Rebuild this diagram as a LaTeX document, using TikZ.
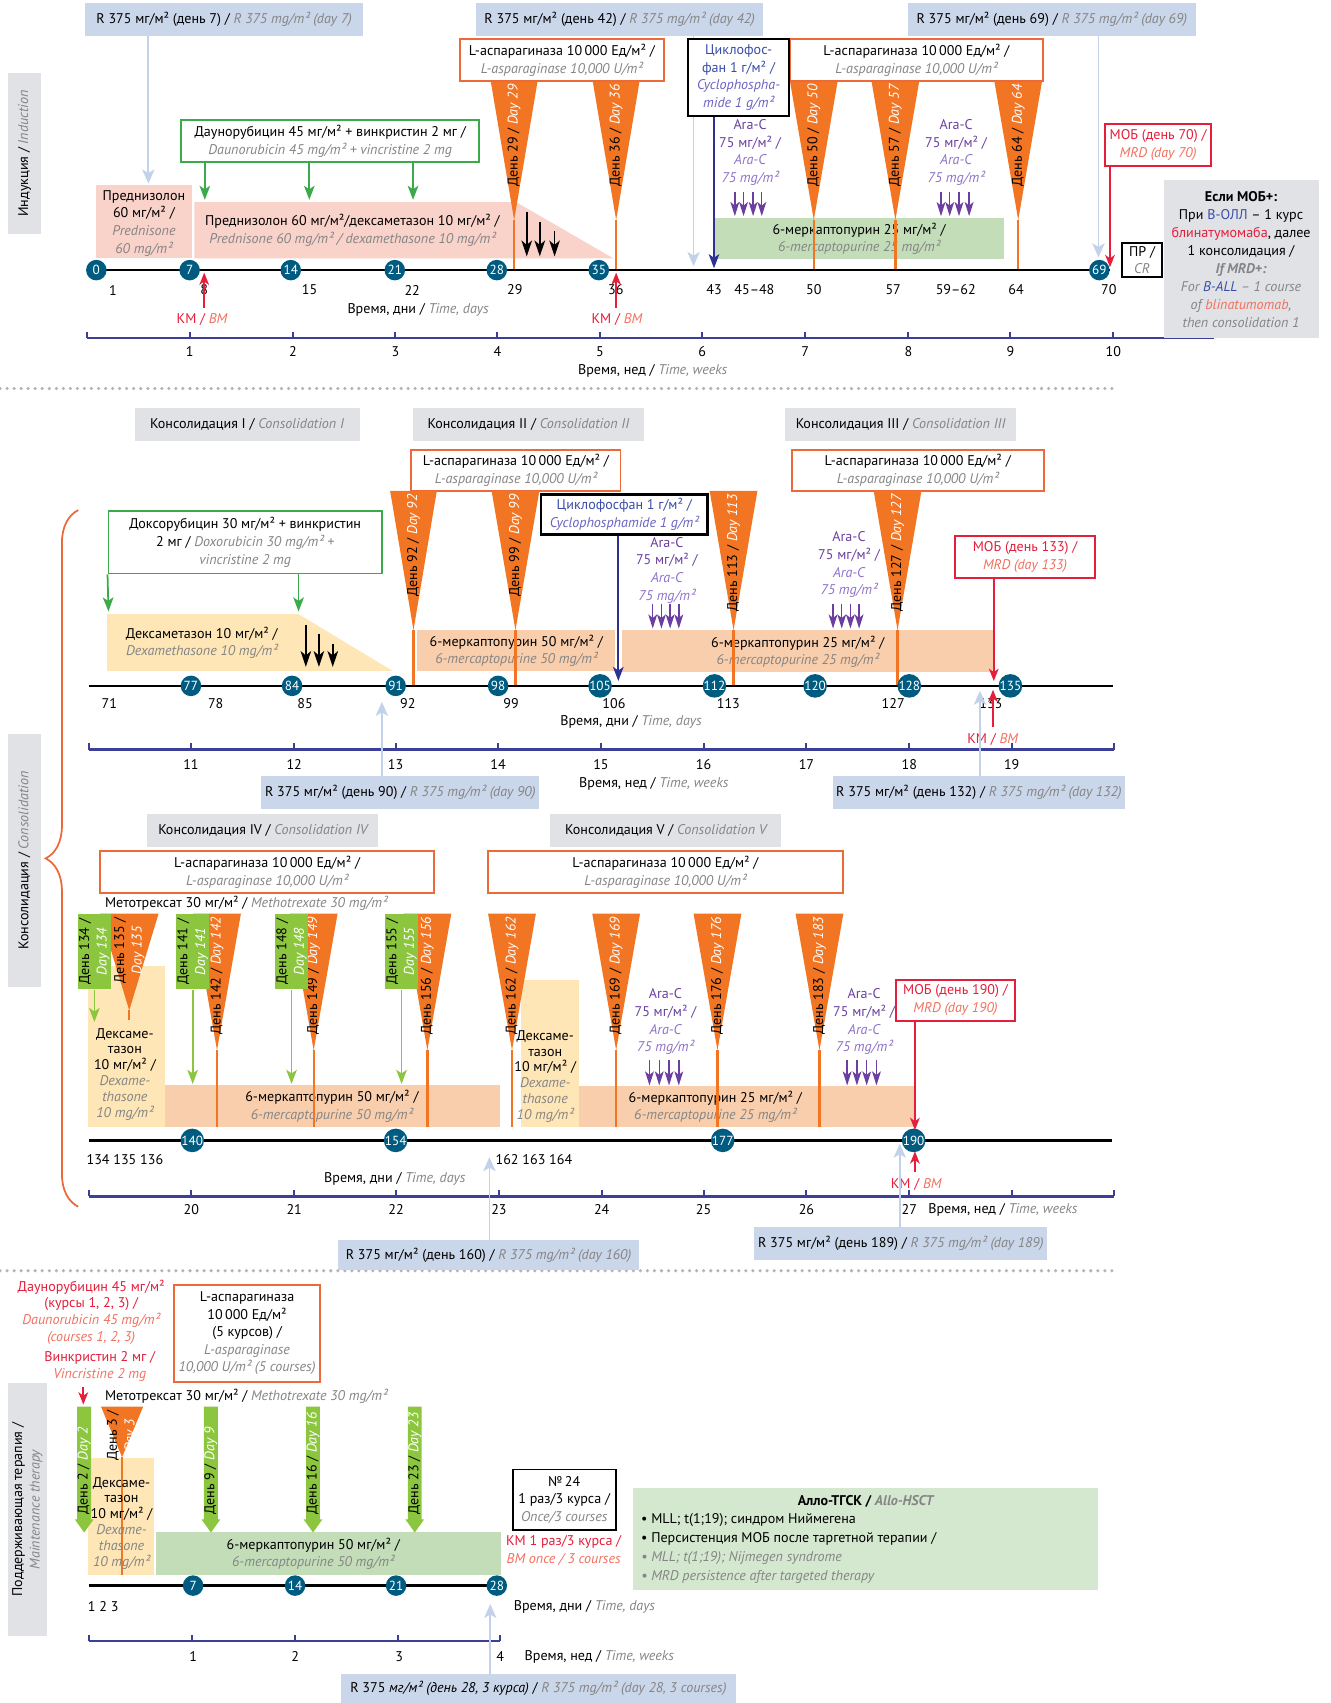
\documentclass[tikz,border=0pt]{standalone}
\usepackage{fontspec}
\setmainfont{PT Sans}
\usetikzlibrary{arrows.meta,fit,decorations.pathreplacing}

\definecolor{rboxcol}{HTML}{CAD6EA}
\definecolor{lbcol}{HTML}{C3D2EA}
\definecolor{graycol}{HTML}{E1E2E6}
\definecolor{aspframe}{HTML}{EC6A3A}
\definecolor{tricol}{HTML}{F17523}
\definecolor{dgreen}{HTML}{3BAA4A}
\definecolor{lgreen}{HTML}{8CC63F}
\definecolor{mpgreen}{HTML}{C3DDB9}
\definecolor{allogreen}{HTML}{D4E7CF}
\definecolor{pinkband}{HTML}{F9D2CA}
\definecolor{dexyellow}{HTML}{FEE6B7}
\definecolor{peach}{HTML}{F9CEAC}
\definecolor{dayteal}{HTML}{005B80}
\definecolor{mobred}{HTML}{E41E3B}
\definecolor{salmon}{HTML}{F2705E}
\definecolor{arapurple}{HTML}{6B3FA0}
\definecolor{aralight}{HTML}{8E72C8}
\definecolor{cycblue}{HTML}{2E3192}
\definecolor{cyctext}{HTML}{3A4DA8}
\definecolor{cycitalic}{HTML}{6A62C0}
\definecolor{weekcol}{HTML}{3C3F98}
\definecolor{engray}{HTML}{858585}
\definecolor{sepgray}{HTML}{B4B4B4}

\tikzset{
  rbox/.style={fill=rboxcol, inner sep=0pt},
  graylab/.style={fill=graycol, inner sep=0pt},
  aspbox/.style={draw=aspframe, line width=1.1pt, fill=white, inner sep=0pt},
  greenbox/.style={draw=dgreen, line width=1.1pt, fill=white, inner sep=0pt},
  blackbox/.style={draw=black, line width=1.3pt, fill=white, inner sep=0pt},
  mobbox/.style={draw=mobred, line width=1.1pt, fill=white, inner sep=0pt},
  boxtext/.style={align=center, inner sep=0pt},
  daycirc/.style={circle, fill=dayteal, text=white, inner sep=0pt, minimum size=0.41cm, font=\fontsize{7.5}{8}\selectfont},
  timeline/.style={black, line width=1.3pt},
  weekaxis/.style={weekcol, line width=1.2pt},
  sepline/.style={sepgray, line width=2pt, dash pattern=on 0pt off 4pt, line cap=round},
  lbarrow/.style={lbcol, line width=1pt, -{Stealth[width=7pt,length=8pt,inset=2pt]}},
  grarrow/.style={dgreen, line width=1pt, -{Stealth[width=6pt,length=8pt,inset=2pt]}},
  lgarrow/.style={lgreen, line width=1pt, -{Stealth[width=6pt,length=8pt,inset=2pt]}},
  redarrow/.style={mobred, line width=1pt, -{Stealth[width=5.5pt,length=7pt,inset=2pt]}},
  cycarrow/.style={cycblue, line width=1.1pt, -{Stealth[width=6pt,length=8pt,inset=2pt]}},
  taparrow/.style={black, line width=0.9pt, -{Stealth[width=6pt,length=9pt,inset=2.5pt]}},
  araarrow/.style={arapurple, line width=0.8pt, -{Stealth[width=5pt,length=8pt,inset=2pt]}},
  triline/.style={tricol, line width=1.3pt},
  tritext/.style={rotate=90, inner sep=0pt},
  aratext/.style={align=center, text=arapurple},
}

\newcommand{\engl}[1]{{\color{engray}\itshape #1}}
\newcommand{\whit}[1]{{\color{white}\itshape #1}}
\newcommand{\salm}[1]{{\color{salmon}\itshape #1}}
\newcommand{\aratxt}{Ara-C\\75 мг/м² /\\{\color{aralight}\itshape Ara-C}\\{\color{aralight}\itshape 75 mg/m²}}
\newcommand{\asptxt}{L-аспарагиназа 10\,000 Ед/м² /\\\engl{L-asparaginase 10,000 U/m²}}
% name, x, top, apex, line end, half width, text
\newcommand{\asptri}[7]{%
  \fill[tricol] ({#2-#6},#3) -- ({#2+#6},#3) -- (#2,#4) -- cycle;
  \coordinate (#1a) at (#2,#4);
  \coordinate (#1b) at (#2,#5);
  \draw[triline] (#1a) -- (#1b);
  \node[tritext, anchor=east, align=center] (#1) at (#2,{#3+3}) {#7};}
% name, left, right, arrow end, text
\newcommand{\mtxcol}[5]{%
  \node[fill=lgreen, inner sep=0pt, fit={(#2,841.3) (#3,911)}] (#1) {};
  \node[tritext, align=center] (#1t) at (#1.center) {#5};
  \coordinate (#1e) at ({(#2+#3)/2},#4);
  \draw[lgarrow] (#1.south) -- (#1e);}
% name, x, text
\newcommand{\mtxbig}[3]{%
  \fill[lgreen] ({#2-6.4},1295.1) -- ({#2+6.4},1295.1) -- ({#2+6.4},1399) -- ({#2+8.6},1399)
    -- (#2,1411) -- ({#2-8.6},1399) -- ({#2-6.4},1399) -- cycle;
  \node[tritext, anchor=west] (#1) at (#2,1395) {#3};}

\begin{document}
\begin{tikzpicture}[x=0.0217cm, y=-0.0217cm, font=\fontsize{8}{10}\selectfont]
\useasboundingbox (0,0) rectangle (1225,1568);

% ------------------------------------------------ induction
\node[graylab, fit={(7,67.5) (38,215)}] (indbox) {};
\node[rotate=90] (indtxt) at (indbox.center) {Индукция / \engl{Induction}};

\fill[pinkband] (88,170) rectangle (177,238);
\node[align=center] (predtxt) at (132.5,205.5) {Преднизолон\\60 мг/м² /\\\engl{Prednisone}\\\engl{60 mg/m²}};
\fill[pinkband] (179,186) -- (475,186) -- (565,238) -- (179,238) -- cycle;
\node[align=center] (predband) at (324.5,212) {Преднизолон 60 мг/м²/дексаметазон 10 мг/м² /\\\engl{Prednisone 60 mg/m² / dexamethasone 10 mg/m²}};
\fill[mpgreen] (657.8,201) rectangle (924.3,238.8);
\node[align=center] (mpind) at (791,220) {6-меркаптопурин 25 мг/м² /\\\engl{6-mercaptopurine 25 mg/m²}};

\asptri{t29}{473.4}{74.6}{202.6}{248.7}{21.6}{День 29 / \whit{Day 29}}
\asptri{t36}{567.3}{74.6}{202.6}{248.7}{21.6}{День 36 / \whit{Day 36}}
\asptri{t50}{749.3}{74.6}{202.6}{248.7}{22}{День 50 / \whit{Day 50}}
\asptri{t57}{824.4}{74.6}{202.6}{248.7}{22}{День 57 / \whit{Day 57}}
\asptri{t64}{937.5}{74.6}{202.6}{248.7}{22}{День 64 / \whit{Day 64}}

\coordinate (tpa1) at (485,195);   \coordinate (tpb1) at (485,236);
\coordinate (tpa2) at (497,204);   \coordinate (tpb2) at (497,236);
\coordinate (tpa3) at (510.6,213); \coordinate (tpb3) at (510.6,236);
\draw[taparrow] (tpa1) -- (tpb1);
\draw[taparrow] (tpa2) -- (tpb2);
\draw[taparrow] (tpa3) -- (tpb3);

\coordinate (tla) at (80,248.7); \coordinate (tlb) at (1022,248.7);
\draw[timeline] (tla) -- (tlb);
\node[daycirc] (c0) at (88.7,248.7) {0};
\node[daycirc] (c7) at (174.6,248.7) {7};
\node[daycirc] (c14) at (267.7,248.7) {14};
\node[daycirc] (c21) at (363.5,248.7) {21};
\node[daycirc] (c28) at (457.4,248.7) {28};
\node[daycirc] (c35) at (551.3,248.7) {35};
\node[daycirc] (c69) at (1012.2,248.7) {69};

\node (dl1) at (104,267) {1};
\node (dl8) at (188,267) {8};
\node (dl15) at (285,267) {15};
\node (dl22) at (379.5,267) {22};
\node (dl29) at (474,267) {29};
\node (dl36) at (567,267) {36};
\node (dl43) at (657.4,267) {43};
\node (dl45) at (694.6,267) {45–48};
\node (dl50) at (749.3,267) {50};
\node (dl57) at (822.4,267) {57};
\node (dl59) at (880,267) {59–62};
\node (dl64) at (935.5,267) {64};
\node (dl70) at (1021,267) {70};
\node (daysa) at (385,285) {Время, дни / \engl{Time, days}};

\node (km8) at (186,294.5) {{\color{mobred}КМ /} \salm{BM}};
\node (km36) at (568,294.5) {{\color{mobred}КМ /} \salm{BM}};
\coordinate (km8e) at (188,251); \coordinate (km36e) at (567.3,251);
\draw[redarrow] (km8.north -| km8e) -- (km8e);
\draw[redarrow] (km36.north -| km36e) -- (km36e);

\coordinate (wa0) at (80,311.6); \coordinate (wa1) at (1118,311.6);
\draw[weekaxis] (wa0) -- (wa1);
\foreach \x in {80,174.6,269.7,364,458,552.5,646.6,741.3,836.4,930.3,1025,1118}
  \draw[weekaxis] (\x,311.6) -- (\x,305.6);
\foreach \x/\n in {174.6/1,269.7/2,364/3,458/4,552.5/5,646.6/6,741.3/7,836.4/8,930.3/9,1025/10}
  \node (wk\n) at (\x,324) {\n};
\node (weeksa) at (601,341.4) {Время, нед / \engl{Time, weeks}};

\node[rbox, fit={(78.7,3) (334,33)}] (rb7) {};
\node[boxtext] (rb7t) at (rb7.center) {R 375 мг/м² (день 7) / \engl{R 375 mg/m² (day 7)}};
\node[rbox, fit={(438.6,3) (702.6,33)}] (rb42) {};
\node[boxtext] (rb42t) at (rb42.center) {R 375 мг/м² (день 42) / \engl{R 375 mg/m² (day 42)}};
\node[rbox, fit={(835.6,3) (1101.3,33)}] (rb69) {};
\node[boxtext] (rb69t) at (rb69.center) {R 375 мг/м² (день 69) / \engl{R 375 mg/m² (day 69)}};
\coordinate (rb7e) at (136.6,169); \coordinate (rb42e) at (638.6,245); \coordinate (rb69e) at (1011.4,237);
\draw[lbarrow] (rb7.south -| rb7e) -- (rb7e);
\draw[lbarrow] (rb42.south -| rb42e) -- (rb42e);
\draw[lbarrow] (rb69.south -| rb69e) -- (rb69e);

\node[greenbox, fit={(166.6,110.5) (441.4,149.5)}] (daun) {};
\node[boxtext] (daunt) at (daun.center) {Даунорубицин 45 мг/м² + винкристин 2 мг /\\\engl{Daunorubicin 45 mg/m² + vincristine 2 mg}};
\coordinate (dau1) at (188.6,184); \coordinate (dau2) at (284.8,184); \coordinate (dau3) at (380.3,184);
\draw[grarrow] (daun.south -| dau1) -- (dau1);
\draw[grarrow] (daun.south -| dau2) -- (dau2);
\draw[grarrow] (daun.south -| dau3) -- (dau3);

\node[aspbox, fit={(423.5,36) (611,74.6)}] (asp1) {};
\node[boxtext] (asp1t) at (asp1.center) {\asptxt};
\node[aspbox, fit={(727.3,36) (960.3,74.6)}] (asp2) {};
\node[boxtext] (asp2t) at (asp2.center) {\asptxt};

\node[blackbox, fit={(633.5,36) (726.5,106.5)}] (cyc1) {};
\node[boxtext] (cyc1t) at (cyc1.center) {{\color{cyctext}Циклофос-}\\{\color{cyctext}фан 1 г/м² /}\\{\color{cycitalic}\itshape Cyclophospha-}\\{\color{cycitalic}\itshape mide 1 g/m²}};
\coordinate (cyc1e) at (657.4,247);
\draw[cycarrow] (cyc1.south -| cyc1e) -- (cyc1e);

\node[aratext] (ara1) at (690.6,140.5) {\aratxt};
\node[aratext] (ara2) at (880.3,140.5) {\aratxt};
\foreach \x [count=\i] in {676.6,684.6,693.4,701.4} {
  \coordinate (ara1s\i) at (\x,176.5); \coordinate (ara1e\i) at (\x,199);
  \draw[araarrow] (ara1s\i) -- (ara1e\i);}
\foreach \x [count=\i] in {866.4,874.4,883,892.3} {
  \coordinate (ara2s\i) at (\x,176.5); \coordinate (ara2e\i) at (\x,199);
  \draw[araarrow] (ara2s\i) -- (ara2e\i);}

\node[mobbox, fit={(1017.4,114.2) (1115.2,152.6)}] (mob70) {};
\node[boxtext] (mob70t) at (mob70.center) {{\color{mobred}МОБ (день 70) /}\\\salm{MRD (day 70)}};
\coordinate (mob70e) at (1022,246);
\draw[redarrow] (mob70.south -| mob70e) -- (mob70e);
\node[blackbox, line width=1.1pt, fit={(1033,224) (1070,254.8)}] (pr) {};
\node[boxtext] (prt) at (pr.center) {ПР /\\\engl{CR}};
\node[graylab, fit={(1071.3,165.8) (1214,311.6)}] (mrdplus) {};
\node[boxtext, font=\fontsize{8}{10.2}\selectfont] (mrdtxt) at (mrdplus.center) {\textbf{Если МОБ+:}\\При {\color{cyctext}В-ОЛЛ} – 1 курс\\{\color{mobred}блинатумомаба}, далее\\1 консолидация /\\{\color{engray}\bfseries\itshape If MRD+:}\\\engl{For {\color{cyctext}B-ALL} – 1 course}\\\engl{of {\color{salmon}blinatumomab},}\\\engl{then consolidation 1}};

\coordinate (sep1a) at (0,357.7); \coordinate (sep1b) at (1028,357.7);
\draw[sepline] (sep1a) -- (sep1b);

% ------------------------------------------------ consolidation I-III
\node[graylab, fit={(124,376) (331,405.9)}] (cons1) {};
\node[boxtext] (cons1t) at (cons1.center) {Консолидация I / \engl{Consolidation I}};
\node[graylab, fit={(380.3,376) (592.8,405.9)}] (cons2) {};
\node[boxtext] (cons2t) at (cons2.center) {Консолидация II / \engl{Consolidation II}};
\node[graylab, fit={(723,376) (935.5,405.9)}] (cons3) {};
\node[boxtext] (cons3t) at (cons3.center) {Консолидация III / \engl{Consolidation III}};
\node[aspbox, fit={(378.7,414.5) (571.3,451.9)}] (asp3) {};
\node[boxtext] (asp3t) at (asp3.center) {\asptxt};
\node[aspbox, fit={(729,414.5) (961,451.9)}] (asp4) {};
\node[boxtext] (asp4t) at (asp4.center) {\asptxt};

\coordinate (brb) at (72,1111); \coordinate (brt) at (72,469.7);
\draw[aspframe, line width=1pt, decorate, decoration={brace, amplitude=0.65cm}] (brb) -- (brt);
\node[graylab, fit={(7,675.4) (38,908.8)}] (consbox) {};
\node[rotate=90] (constxt) at (consbox.center) {Консолидация / \engl{Consolidation}};

\fill[dexyellow] (98.7,565.5) -- (274.9,565.5) -- (361.5,617.7) -- (98.7,617.7) -- cycle;
\node[align=center] (dexc) at (185.8,591.8) {Дексаметазон 10 мг/м² /\\\engl{Dexamethasone 10 mg/m²}};
\fill[peach] (384.3,579.6) rectangle (566.5,617.7);
\node[align=center] (mp50c) at (475.4,599.3) {6-меркаптопурин 50 мг/м² /\\\engl{6-mercaptopurine 50 mg/m²}};
\fill[peach] (572.5,580.2) rectangle (914.3,618.6);
\node[align=center] (mp25c) at (734.5,600.2) {6-меркаптопурин 25 мг/м² /\\\engl{6-mercaptopurine 25 mg/m²}};

\asptri{t92}{380.7}{451.9}{580.2}{631.5}{21.5}{День 92 / \whit{Day 92}}
\asptri{t99}{474.6}{451.9}{580.2}{631.5}{22}{День 99 / \whit{Day 99}}
\asptri{t113}{675.4}{451.9}{580.2}{631.5}{22}{День 113 / \whit{Day 113}}
\asptri{t127}{826.4}{451.9}{580.2}{631.5}{22}{День 127 / \whit{Day 127}}

\node[greenbox, fit={(99.9,470.6) (351.6,528)}] (doxo) {};
\node[boxtext] (doxot) at (doxo.center) {Доксорубицин 30 мг/м² + винкристин\\2 мг / \engl{Doxorubicin 30 mg/m² +}\\\engl{vincristine 2 mg}};
\coordinate (dox1) at (99.9,563); \coordinate (dox2) at (274.9,563);
\draw[grarrow] (doxo.south west) -- (dox1);
\draw[grarrow] (doxo.south -| dox2) -- (dox2);

\coordinate (tca1) at (281.6,575.6); \coordinate (tcb1) at (281.6,614);
\coordinate (tca2) at (293.6,583.3); \coordinate (tcb2) at (293.6,614);
\coordinate (tca3) at (306.4,592.5); \coordinate (tcb3) at (306.4,614);
\draw[taparrow] (tca1) -- (tcb1);
\draw[taparrow] (tca2) -- (tcb2);
\draw[taparrow] (tca3) -- (tcb3);

\node[blackbox, fit={(498.2,455.3) (651.4,492)}] (cyc2) {};
\node[boxtext] (cyc2t) at (cyc2.center) {{\color{cyctext}Циклофосфан 1 г/м² /}\\{\color{cycitalic}\itshape Cyclophosphamide 1 g/m²}};
\coordinate (cyc2e) at (569.3,627);
\draw[cycarrow] (cyc2.south -| cyc2e) -- (cyc2e);

\node[aratext] (ara3) at (614,525) {\aratxt};
\node[aratext] (ara4) at (781.7,520) {\aratxt};
\foreach \x [count=\i] in {601,609,617,625} {
  \coordinate (ara3s\i) at (\x,555.7); \coordinate (ara3e\i) at (\x,578.7);
  \draw[araarrow] (ara3s\i) -- (ara3e\i);}
\foreach \x [count=\i] in {767,775,783,791} {
  \coordinate (ara4s\i) at (\x,555.7); \coordinate (ara4e\i) at (\x,578.7);
  \draw[araarrow] (ara4s\i) -- (ara4e\i);}

\coordinate (tca) at (82,631.5); \coordinate (tcb) at (1025,631.5);
\draw[timeline] (tca) -- (tcb);
\node[daycirc] (c77) at (175.8,631.5) {77};
\node[daycirc] (c84) at (268.9,631.5) {84};
\node[daycirc] (c91) at (364.3,631.5) {91};
\node[daycirc] (c98) at (458.6,631.5) {98};
\node[daycirc] (c105) at (552.5,631.5) {105};
\node[daycirc] (c112) at (657.8,631.5) {112};
\node[daycirc] (c120) at (750.5,631.5) {120};
\node[daycirc] (c128) at (837.2,631.5) {128};
\node[daycirc] (c135) at (930.3,631.5) {135};

\node (dl71) at (100.7,647.8) {71};
\node (dl78) at (198.6,647.8) {78};
\node (dl85) at (280.9,647.8) {85};
\node (dl92) at (375.5,647.8) {92};
\node (dl99) at (470.6,647.8) {99};
\node (dl106) at (565.3,647.8) {106};
\node (dl113) at (670.6,647.8) {113};
\node (dl127) at (822.4,647.8) {127};
\node (dl133) at (912.3,647.8) {133};
\node (daysc) at (581,664.7) {Время, дни / \engl{Time, days}};

\node[mobbox, fit={(879.5,493.7) (1008.2,532)}] (mob133) {};
\node[boxtext] (mob133t) at (mob133.center) {{\color{mobred}МОБ (день 133) /}\\\salm{MRD (day 133)}};
\coordinate (mob133e) at (915,627);
\draw[redarrow] (mob133.south -| mob133e) -- (mob133e);
\node (km133) at (914,680.6) {{\color{mobred}КМ /} \salm{BM}};
\coordinate (km133e) at (914.3,635);
\draw[redarrow] (km133.north -| km133e) -- (km133e);

\coordinate (wc0) at (82,690.1); \coordinate (wc1) at (1025.4,690.1);
\draw[weekaxis] (wc0) -- (wc1);
\foreach \x in {82,175.8,270.9,364.3,458.6,553.3,647.8,742.5,837.2,931.5,1025.4}
  \draw[weekaxis] (\x,690.1) -- (\x,684.1);
\foreach \x/\n in {175.8/11,270.9/12,364.3/13,458.6/14,553.3/15,647.8/16,742.5/17,837.2/18,931.5/19}
  \node (wk\n) at (\x,704) {\n};
\node (weeksc) at (602,721.5) {Время, нед / \engl{Time, weeks}};

\node[rbox, fit={(240.5,714.7) (496.6,744.5)}] (rb90) {};
\node[boxtext] (rb90t) at (rb90.center) {R 375 мг/м² (день 90) / \engl{R 375 mg/m² (day 90)}};
\node[rbox, fit={(766.5,714.7) (1036.2,744.5)}] (rb132) {};
\node[boxtext] (rb132t) at (rb132.center) {R 375 мг/м² (день 132) / \engl{R 375 mg/m² (day 132)}};
\coordinate (rb90e) at (351.6,646.2); \coordinate (rb132e) at (902.3,636);
\draw[lbarrow] (rb90.north -| rb90e) -- (rb90e);
\draw[lbarrow] (rb132.north -| rb132e) -- (rb132e);

% ------------------------------------------------ consolidation IV-V
\node[graylab, fit={(135.8,749.8) (348.4,779.9)}] (cons4) {};
\node[boxtext] (cons4t) at (cons4.center) {Консолидация IV / \engl{Consolidation IV}};
\node[graylab, fit={(506.8,749.8) (719.3,779.9)}] (cons5) {};
\node[boxtext] (cons5t) at (cons5.center) {Консолидация V / \engl{Consolidation V}};
\node[aspbox, fit={(92.3,783.6) (399.5,822.2)}] (asp5) {};
\node[boxtext] (asp5t) at (asp5.center) {\asptxt};
\node[aspbox, fit={(448.9,783.6) (776.5,822.2)}] (asp6) {};
\node[boxtext] (asp6t) at (asp6.center) {\asptxt};
\node[anchor=west] (mtx4) at (91,831.4) {Метотрексат 30 мг/м² / \engl{Methotrexate 30 mg/m²}};

\fill[peach] (151.8,999.4) rectangle (460.2,1037.7);
\node[align=center] (mp50d) at (305.6,1018.5) {6-меркаптопурин 50 мг/м² /\\\engl{6-mercaptopurine 50 mg/m²}};
\fill[peach] (520.8,1000.3) rectangle (842.4,1037.7);
\node[align=center] (mp25d) at (658.6,1019) {6-меркаптопурин 25 мг/м² /\\\engl{6-mercaptopurine 25 mg/m²}};
\fill[dexyellow] (80.7,889.8) rectangle (151.8,1037.7);
\node[align=center, font=\fontsize{8}{9}\selectfont] (dex4) at (115,989) {Дексаме-\\тазон\\10 мг/м² /\\\engl{Dexame-}\\\engl{thasone}\\\engl{10 mg/m²}};
\fill[dexyellow] (480,902.7) rectangle (532.8,1037.7);
\node[align=center, font=\fontsize{8}{9}\selectfont] (dex5) at (502,991) {Дексаме-\\тазон\\10 мг/м² /\\\engl{Dexame-}\\\engl{thasone}\\\engl{10 mg/m²}};

\asptri{t135}{119}{841.3}{930.3}{939.5}{27}{День 135 /\\\whit{Day 135}}
\asptri{t142}{199.8}{841.3}{967}{1037.7}{22}{День 142 / \whit{Day 142}}
\asptri{t149}{288.8}{841.3}{967}{1037.7}{22}{День 149 / \whit{Day 149}}
\asptri{t156}{393.5}{841.3}{967}{1037.7}{22}{День 156 / \whit{Day 156}}
\asptri{t162}{471.4}{841.3}{967}{1037.7}{22}{День 162 / \whit{Day 162}}
\asptri{t169}{567.3}{841.3}{967}{1037.7}{22}{День 169 / \whit{Day 169}}
\asptri{t176}{660.6}{841.3}{967}{1037.7}{22}{День 176 / \whit{Day 176}}
\asptri{t183}{754.5}{841.3}{967}{1037.7}{22}{День 183 / \whit{Day 183}}

\mtxcol{m134}{71.9}{101.9}{941}{День 134 /\\\whit{Day 134}}
\mtxcol{m141}{162.2}{192.6}{998}{День 141 /\\\whit{Day 141}}
\mtxcol{m148}{253.3}{283.6}{998}{День 148 /\\\whit{Day 148}}
\mtxcol{m155}{354.8}{384.7}{998}{День 155 /\\\whit{Day 155}}

\node[aratext] (ara5) at (612.7,940.8) {\aratxt};
\node[aratext] (ara6) at (795.6,940.8) {\aratxt};
\foreach \x [count=\i] in {598,607,616,625} {
  \coordinate (ara5s\i) at (\x,976); \coordinate (ara5e\i) at (\x,999.4);
  \draw[araarrow] (ara5s\i) -- (ara5e\i);}
\foreach \x [count=\i] in {780,789,798,807} {
  \coordinate (ara6s\i) at (\x,976); \coordinate (ara6e\i) at (\x,999.4);
  \draw[araarrow] (ara6s\i) -- (ara6e\i);}

\coordinate (tda) at (82,1050); \coordinate (tdb) at (1024,1050);
\draw[timeline] (tda) -- (tdb);
\node[daycirc] (c140) at (177,1050) {140};
\node[daycirc] (c154) at (364.3,1050) {154};
\node[daycirc] (c177) at (665.4,1050) {177};
\node[daycirc] (c190) at (841.2,1050) {190};
\node (dl134) at (115,1067.5) {134 135 136};
\node (dl162) at (491.6,1067.5) {162 163 164};
\node (daysd) at (363.5,1085.4) {Время, дни / \engl{Time, days}};

\node[mobbox, fit={(825.2,902) (934.3,940)}] (mob190) {};
\node[boxtext] (mob190t) at (mob190.center) {{\color{mobred}МОБ (день 190) /}\\\salm{MRD (day 190)}};
\coordinate (mob190e) at (842.4,1040.5);
\draw[redarrow] (mob190.south -| mob190e) -- (mob190e);
\node (km190) at (843.6,1090.5) {{\color{mobred}КМ /} \salm{BM}};
\coordinate (km190e) at (842.4,1060);
\draw[redarrow] (km190.north -| km190e) -- (km190e);

\coordinate (wd0) at (82,1101.6); \coordinate (wd1) at (1026,1101.6);
\draw[weekaxis] (wd0) -- (wd1);
\foreach \x in {82,176.2,270.9,364.7,459.4,554,647.8,742.5,837.2,931.5,1026}
  \draw[weekaxis] (\x,1101.6) -- (\x,1095.6);
\foreach \x/\n in {176.2/20,270.9/21,364.7/22,459.4/23,554/24,647.8/25,742.5/26,837.2/27}
  \node (wk\n) at (\x,1113.6) {\n};
\node[anchor=west] (weeksd) at (849,1113.6) {Время, нед / \engl{Time, weeks}};

\coordinate (sep2a) at (0,1170); \coordinate (sep2b) at (1028,1170);
\draw[sepline] (sep2a) -- (sep2b);
\node[rbox, fit={(311.6,1142.1) (588,1169.7)}] (rb160) {};
\node[boxtext] (rb160t) at (rb160.center) {R 375 мг/м² (день 160) / \engl{R 375 mg/m² (day 160)}};
\node[rbox, fit={(694.6,1129.8) (964.2,1160.5)}] (rb189) {};
\node[boxtext] (rb189t) at (rb189.center) {R 375 мг/м² (день 189) / \engl{R 375 mg/m² (day 189)}};
\coordinate (rb160e) at (450.6,1065.4); \coordinate (rb189e) at (828.4,1053);
\draw[lbarrow] (rb160.north -| rb160e) -- (rb160e);
\draw[lbarrow] (rb189.north -| rb189e) -- (rb189e);

% ------------------------------------------------ maintenance
\node[align=center, font=\fontsize{8}{9.5}\selectfont] (daunm) at (84,1208) {{\color{mobred}Даунорубицин 45 мг/м²}\\{\color{mobred}(курсы 1, 2, 3) /}\\\salm{Daunorubicin 45 mg/m²}\\\salm{(courses 1, 2, 3)}};
\node[align=center, font=\fontsize{8}{9.5}\selectfont] (vinm) at (91.9,1258) {{\color{mobred}Винкристин 2 мг /}\\\salm{Vincristine 2 mg}};
\coordinate (vinme) at (76.7,1293.2);
\draw[redarrow] (vinm.south -| vinme) -- (vinme);
\node[aspbox, fit={(160.6,1182.7) (294.4,1272.6)}] (aspm) {};
\node[boxtext] (aspmt) at (aspm.center) {L-аспарагиназа\\10\,000 Ед/м²\\(5 курсов) /\\\engl{L-asparaginase}\\\engl{10,000 U/m² (5 courses)}};
\node[anchor=west] (mtxm) at (91,1285.5) {Метотрексат 30 мг/м² / \engl{Methotrexate 30 mg/m²}};

\node[graylab, fit={(7.2,1273.3) (43.1,1506.6)}] (maintbox) {};
\node[rotate=90, align=center] (mainttxt) at (maintbox.center) {Поддерживающая терапия /\\\engl{Maintenance therapy}};

\fill[dexyellow] (80.7,1342.6) rectangle (141.8,1449.8);
\fill[mpgreen] (143.8,1410.8) rectangle (461.4,1449.8);
\node[align=center] (mp50m) at (288.4,1430.7) {6-меркаптопурин 50 мг/м² /\\\engl{6-mercaptopurine 50 mg/m²}};
\asptri{t3}{112.4}{1295.1}{1341.7}{1449.8}{19.4}{День 3 /\\\whit{Day 3}}
\node[align=center, font=\fontsize{8}{9}\selectfont] (dexm) at (111.9,1402.5) {Дексаме-\\тазон\\10 мг/м² /\\\engl{Dexame-}\\\engl{thasone}\\\engl{10 mg/m²}};

\mtxbig{d2}{77.5}{День 2 / \whit{Day 2}}
\mtxbig{d9}{194.2}{День 9 / \whit{Day 9}}
\mtxbig{d16}{288.2}{День 16 / \whit{Day 16}}
\mtxbig{d23}{381.9}{День 23 / \whit{Day 23}}

\coordinate (tma) at (81.9,1459.9); \coordinate (tmb) at (459.4,1459.9);
\draw[timeline] (tma) -- (tmb);
\node[daycirc] (m7) at (177.8,1459.9) {7};
\node[daycirc] (m14) at (271.7,1459.9) {14};
\node[daycirc] (m21) at (364.7,1459.9) {21};
\node[daycirc] (m28) at (457.4,1459.9) {28};
\node (dl123) at (95,1479.3) {1 2 3};
\node[anchor=west] (daysm) at (467.4,1479.9) {Время, дни / \engl{Time, days}};

\coordinate (wm0) at (81.9,1511.2); \coordinate (wm1) at (460.6,1511.2);
\draw[weekaxis] (wm0) -- (wm1);
\foreach \x in {81.9,177,271.7,366.3,460.6}
  \draw[weekaxis] (\x,1511.2) -- (\x,1505.2);
\foreach \x/\n in {177.8/1,271.7/2,367.5/3,460.6/4}
  \node (wm\n) at (\x,1525.3) {\n};
\node[anchor=west] (weeksm) at (477.4,1525.3) {Время, нед / \engl{Time, weeks}};

\node[rbox, fit={(313.6,1541.3) (677.9,1568)}] (rbm) {};
\node[boxtext] (rbmt) at (rbm.center) {R 375 \textit{мг/м² (день 28, 3 курса)} / \engl{R 375 mg/m² (day 28, 3 courses)}};
\coordinate (rbme) at (451.4,1476.8);
\draw[lbarrow] (rbm.north -| rbme) -- (rbme);

\node[blackbox, line width=1.1pt, fit={(472,1353) (567,1408.6)}] (no24) {};
\node[boxtext] (no24t) at (no24.center) {№\,24\\1 раз/3 курса /\\\engl{Once/3 courses}};
\node[align=center] (kmm) at (519,1427.3) {{\color{mobred}КМ 1 раз/3 курса /}\\\salm{BM once / 3 courses}};

\node[fill=allogreen, inner sep=0pt, fit={(582.8,1369.9) (1011.2,1463.5)}] (allo) {};
\node (allotit) at (797,1382.5) {\textbf{Алло-ТГСК / {\color{engray}\itshape Allo-HSCT}}};
\node[anchor=north west, align=left, inner sep=0pt, font=\fontsize{8}{10.8}\selectfont] (allotxt) at (590,1393.5) {• MLL; t(1;19); синдром Ниймегена\\• Персистенция МОБ после таргетной терапии /\\\engl{• MLL; t(1;19); Nijmegen syndrome}\\\engl{• MRD persistence after targeted therapy}};
\end{tikzpicture}
\end{document}
